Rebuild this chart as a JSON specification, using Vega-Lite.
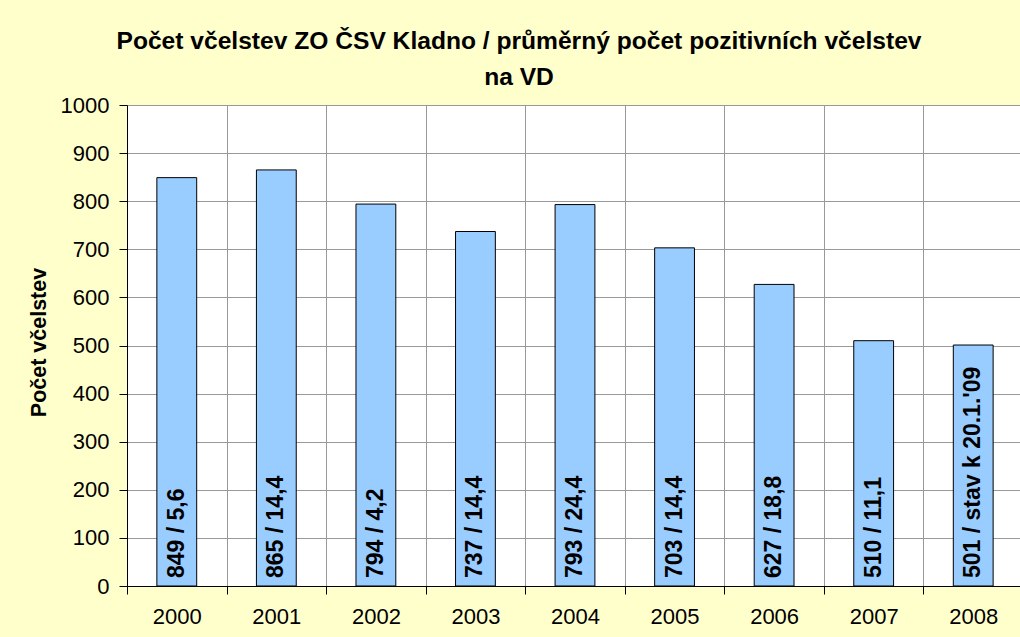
{
  "$schema": "https://vega.github.io/schema/vega-lite/v6.json",
  "width": 896,
  "height": 481,
  "autosize": {"type": "none"},
  "padding": {"left": 127, "top": 105, "right": 0, "bottom": 51},
  "background": "#FFFFCC",
  "config": {
    "font": "Liberation Sans",
    "view": {"fill": "#FFFFFF", "stroke": null}
  },
  "title": {
    "text": ["Počet včelstev ZO ČSV Kladno / průměrný počet pozitivních včelstev", "na VD"],
    "anchor": "middle",
    "frame": "group",
    "dx": -56,
    "offset": -16,
    "baseline": "alphabetic",
    "lineHeight": 36,
    "fontSize": 24.6,
    "fontWeight": "bold",
    "color": "#000000",
    "font": "Liberation Sans"
  },
  "data": {
    "values": [
      {"year": "2000", "count": 849, "label": "849 / 5,6"},
      {"year": "2001", "count": 865, "label": "865 / 14,4"},
      {"year": "2002", "count": 794, "label": "794 / 4,2"},
      {"year": "2003", "count": 737, "label": "737 / 14,4"},
      {"year": "2004", "count": 793, "label": "793 / 24,4"},
      {"year": "2005", "count": 703, "label": "703 / 14,4"},
      {"year": "2006", "count": 627, "label": "627 / 18,8"},
      {"year": "2007", "count": 510, "label": "510 / 11,1"},
      {"year": "2008", "count": 501, "label": "501 / stav k 20.1.'09"}
    ]
  },
  "encoding": {
    "x": {
      "field": "year",
      "type": "nominal",
      "sort": null,
      "scale": {"paddingInner": 0, "paddingOuter": 0},
      "axis": {
        "title": null,
        "labelAngle": 0,
        "labelFontSize": 22,
        "labelColor": "#000000",
        "labelPadding": 12,
        "labelBaseline": "top",
        "tickBand": "extent",
        "tickSize": 8,
        "tickColor": "#000000",
        "domainColor": "#000000",
        "grid": true,
        "gridColor": "#999999",
        "gridWidth": 1
      }
    },
    "y": {
      "field": "count",
      "type": "quantitative",
      "scale": {"domain": [0, 1000], "nice": false},
      "axis": {
        "title": "Počet včelstev",
        "titleFontSize": 21.5,
        "titleFontWeight": "bold",
        "titleColor": "#000000",
        "titleX": -88,
        "titleY": 237,
        "titleAngle": -90,
        "titleAlign": "center",
        "titleBaseline": "middle",
        "values": [0, 100, 200, 300, 400, 500, 600, 700, 800, 900, 1000],
        "format": "d",
        "labelFontSize": 22,
        "labelColor": "#000000",
        "labelPadding": 10,
        "tickSize": 8,
        "tickColor": "#000000",
        "domainColor": "#000000",
        "gridColor": "#999999",
        "gridWidth": 1
      }
    }
  },
  "layer": [
    {
      "mark": {"type": "bar", "fill": "#99CCFF", "stroke": "#000000", "strokeWidth": 1, "width": {"band": 0.4}}
    },
    {
      "mark": {
        "type": "text",
        "angle": -90,
        "align": "left",
        "baseline": "middle",
        "dx": 8,
        "fontSize": 23,
        "fontWeight": "bold",
        "color": "#000000"
      },
      "encoding": {
        "y": {"datum": 0, "type": "quantitative"},
        "text": {"field": "label"}
      }
    }
  ]
}
